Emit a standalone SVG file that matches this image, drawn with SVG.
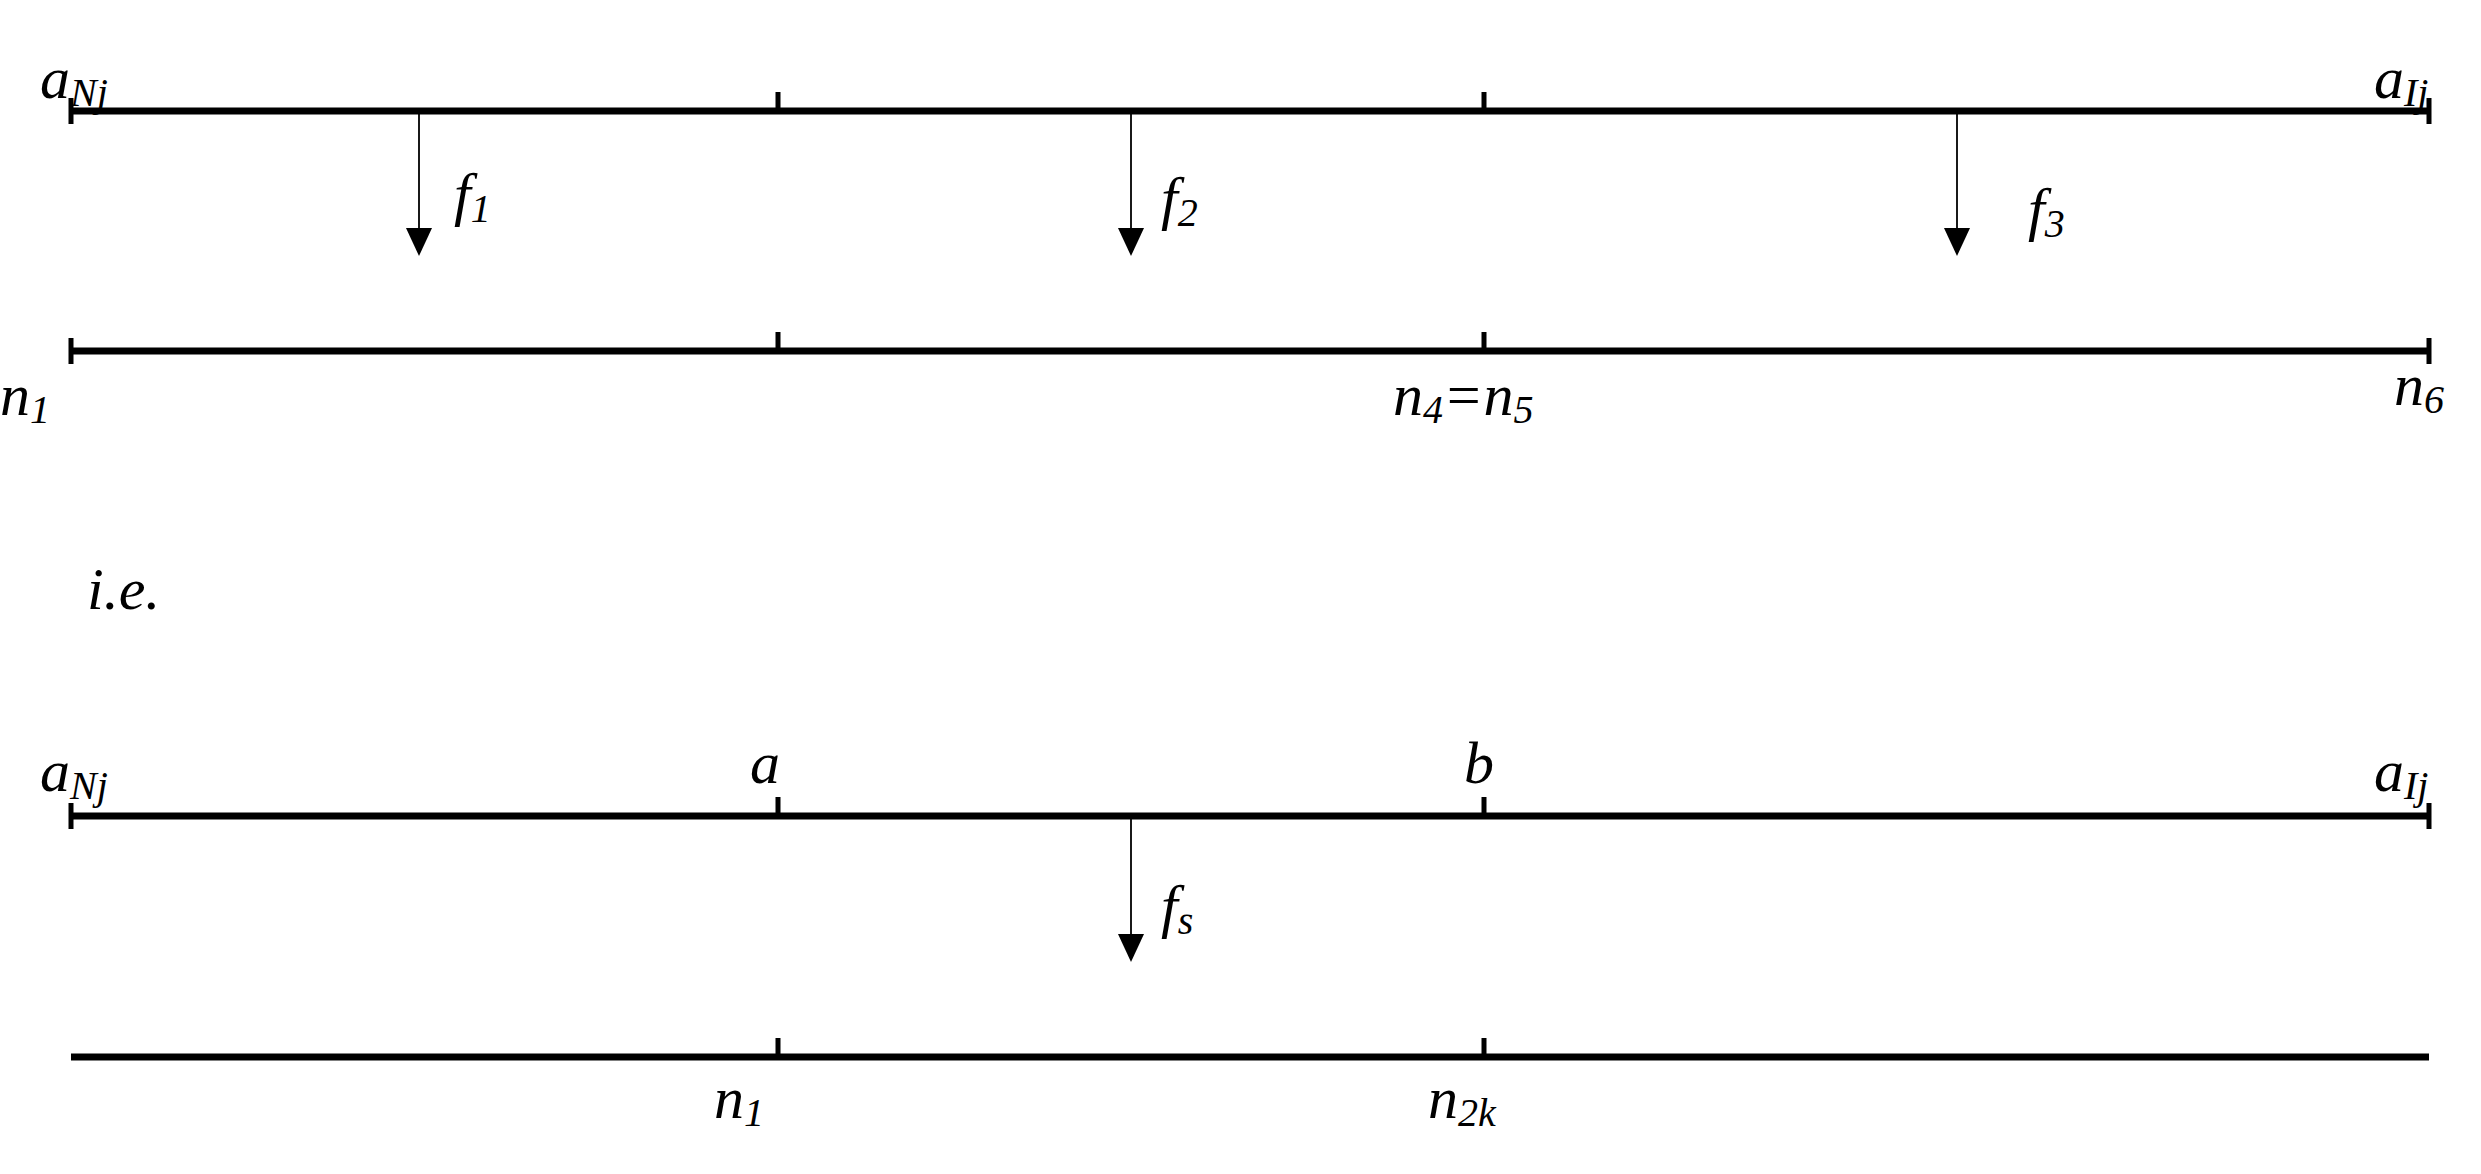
<svg xmlns="http://www.w3.org/2000/svg" width="2481" height="1174" viewBox="0 0 2481 1174">
<defs>
<style>
.ax{stroke:#000;stroke-width:7;fill:none}
.tk{stroke:#000;stroke-width:5;fill:none}
.ar{stroke:#000;stroke-width:1.8;fill:none}
text{font-family:'Liberation Serif','Times New Roman',serif;font-style:italic;font-size:60px;fill:#000}
.s{font-size:40px}
</style>
</defs>
<rect width="2481" height="1174" fill="#fff"/>
<g id="axes">
<line class="ax" x1="71" y1="111" x2="2429" y2="111"/>
<path class="tk" d="M71,98V124M2429,98V124M778,92V111M1484,92V111"/>
<line class="ax" x1="71" y1="351" x2="2429" y2="351"/>
<path class="tk" d="M71,338V364M2429,338V364M778,332V351M1484,332V351"/>
<line class="ax" x1="71" y1="816" x2="2429" y2="816"/>
<path class="tk" d="M71,803V829M2429,803V829M778,797V816M1484,797V816"/>
<line class="ax" x1="71" y1="1057" x2="2429" y2="1057"/>
<path class="tk" d="M778,1038V1057M1484,1038V1057"/>
</g>
<g id="connectors">
<path class="ar" d="M419,114V230"/><path d="M406,228L419,256L432,228Z"/>
<path class="ar" d="M1131,114V230"/><path d="M1118,228L1131,256L1144,228Z"/>
<path class="ar" d="M1957,114V230"/><path d="M1944,228L1957,256L1970,228Z"/>
<path class="ar" d="M1131,819V936"/><path d="M1118,934L1131,962L1144,934Z"/>
</g>
<g id="labels" font-family="Liberation Serif">
<text x="40" y="98">a<tspan class="s" dy="8">Nj</tspan></text>
<text x="2374" y="98">a<tspan class="s" dy="8">Ij</tspan></text>
<text x="454" y="214">f<tspan class="s" dy="8">1</tspan></text>
<text x="1161" y="218">f<tspan class="s" dy="8">2</tspan></text>
<text x="2028" y="229">f<tspan class="s" dy="8">3</tspan></text>
<text x="0" y="415">n<tspan class="s" dy="8">1</tspan></text>
<text x="1393" y="415">n<tspan class="s" dy="8">4</tspan><tspan dy="-8">=n</tspan><tspan class="s" dy="8">5</tspan></text>
<text x="2394" y="405">n<tspan class="s" dy="8">6</tspan></text>
<text x="87" y="609">i.e.</text>
<text x="40" y="791">a<tspan class="s" dy="8">Nj</tspan></text>
<text x="750" y="783">a</text>
<text x="1464" y="783">b</text>
<text x="2374" y="791">a<tspan class="s" dy="8">Ij</tspan></text>
<text x="1161" y="926">f<tspan class="s" dy="8">s</tspan></text>
<text x="714" y="1118">n<tspan class="s" dy="8">1</tspan></text>
<text x="1428" y="1118">n<tspan class="s" dy="8">2k</tspan></text>
</g>
</svg>
